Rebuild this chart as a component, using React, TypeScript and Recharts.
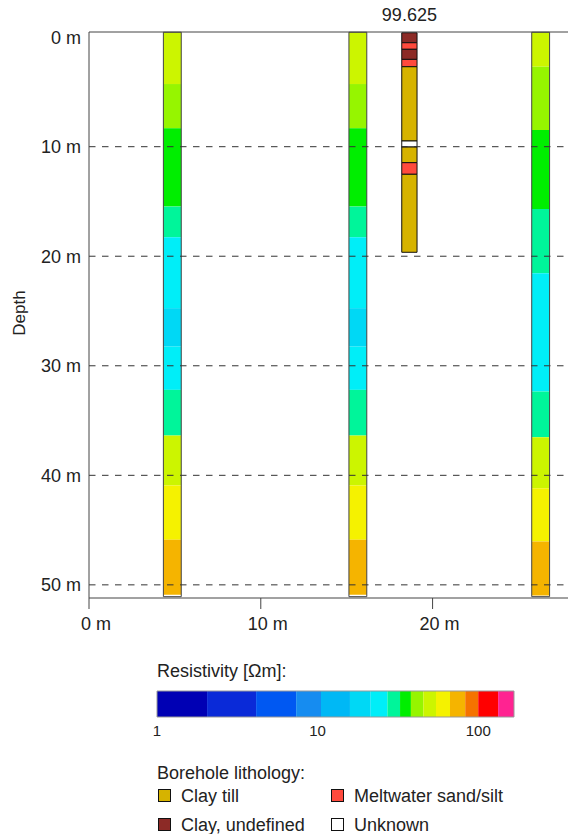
import React from 'react';
import {
  ComposedChart,
  XAxis,
  YAxis,
  ReferenceArea,
  ReferenceLine,
  Scatter,
  LabelList,
} from 'recharts';

const FONT = '"Liberation Sans", Arial, Helvetica, sans-serif';

// ---- axes ----
const distanceTicks = [0, 10, 20];
const depthTicks = [0, 10, 20, 30, 40, 50];
const gridDepths = [10, 20, 30, 40, 50];
const distanceDomain = [0, 27.94];
const depthDomain = [-0.47, 51.2];

// ---- resistivity colour scale ----
const resistivityTicks = [1, 10, 100];
const resistivityBounds = [1, 2.05, 4.14, 7.35, 10.5, 15.9, 21.4, 27.2, 32.6, 38.1, 45.5, 54.6, 66.7, 83, 100, 133, 167];
const resistivityColors = [
  '#0000b4', '#0a2ad8', '#0058f2', '#168cf0', '#00b8f5', '#00d8f5', '#00eef8', '#00f59a',
  '#00ee00', '#96f500', '#ccf500', '#f5f200', '#f5b400', '#f57300', '#ff0000', '#ff2391',
];

// ---- resistivity soundings (layer boundaries in m depth, resistivity in Ωm) ----
const soundingPositions = [4.85, 15.65, 26.29];
const soundingBottom = 51.08;
const sounding1Bounds = [-0.45, 4.28, 8.32, 15.47, 18.27, 24.74, 28.25, 32.2, 36.37, 40.93, 45.89, 50.9];
const sounding1Rho = [50, 42, 35, 30, 24, 19, 24, 30, 50, 60, 75];
const sounding2Bounds = [-0.45, 4.28, 8.32, 15.47, 18.27, 24.74, 28.25, 32.2, 36.37, 40.93, 45.89, 50.9];
const sounding2Rho = [50, 42, 35, 30, 24, 19, 24, 30, 50, 60, 75];
const sounding3Bounds = [-0.45, 2.7, 8.48, 15.69, 21.55, 32.35, 36.52, 41.17, 46.04, 50.97];
const sounding3Rho = [50, 42, 35, 30, 24, 30, 50, 60, 75];
const soundingBounds = [sounding1Bounds, sounding2Bounds, sounding3Bounds];
const soundingRho = [sounding1Rho, sounding2Rho, sounding3Rho];

// ---- borehole ----
const boreholePosition = 18.65;
const boreholeElevation = '99.625';
const boreholeBounds = [-0.4, 0.51, 1.11, 2.03, 2.7, 9.48, 10.03, 11.46, 12.52, 19.64];
const boreholeLitho = [
  'Clay, undefined', 'Meltwater sand/silt', 'Clay, undefined', 'Meltwater sand/silt',
  'Clay till', 'Unknown', 'Clay till', 'Meltwater sand/silt', 'Clay till',
];
const lithoNames = ['Clay till', 'Meltwater sand/silt', 'Clay, undefined', 'Unknown'];
const lithoColors: Record<string, string> = {
  'Clay till': '#d6b300',
  'Meltwater sand/silt': '#ff4a3d',
  'Clay, undefined': '#8c2a26',
  Unknown: '#ffffff',
};

const boreholeTops = [{ x: boreholePosition, y: depthDomain[0], label: boreholeElevation }];
const colorbarAnchors = resistivityBounds.map((b) => ({ x: b, y: 0.5 }));

const SOUNDING_HALF = 0.52;
const BOREHOLE_HALF = 0.445;

function colorFor(rho: number) {
  for (let i = 0; i < resistivityColors.length; i++) {
    if (rho >= resistivityBounds[i] && rho < resistivityBounds[i + 1]) return resistivityColors[i];
  }
  return resistivityColors[resistivityColors.length - 1];
}

const XTick = (props: any) => {
  const { x, y, payload } = props;
  return (
    <text x={x + 7} y={y + 19} textAnchor="middle" fontSize={18} fill="#222" fontFamily={FONT}>
      {`${payload.value} m`}
    </text>
  );
};

const DepthLabel = (props: any) => {
  const vb = props.viewBox || { x: 0, y: 32, width: 89, height: 566 };
  const cx = vb.x + 19;
  const cy = vb.y + vb.height / 2 - 2;
  return (
    <text
      x={cx}
      y={cy}
      dy="0.35em"
      textAnchor="middle"
      transform={`rotate(-90, ${cx}, ${cy})`}
      fontSize={17}
      fill="#222"
      fontFamily={FONT}
    >
      Depth
    </text>
  );
};

export default function App() {
  const soundingAreas: React.ReactNode[] = [];
  soundingPositions.forEach((pos, s) => {
    const b = soundingBounds[s];
    soundingRho[s].forEach((rho, i) => {
      soundingAreas.push(
        <ReferenceArea
          key={`s${s}-${i}`}
          x1={pos - SOUNDING_HALF}
          x2={pos + SOUNDING_HALF}
          y1={b[i]}
          y2={b[i + 1]}
          fill={colorFor(rho)}
          fillOpacity={1}
          stroke="none"
        />
      );
    });
  });
  const soundingOutlines = soundingPositions.map((pos, s) => (
    <ReferenceArea
      key={`o${s}`}
      x1={pos - SOUNDING_HALF}
      x2={pos + SOUNDING_HALF}
      y1={soundingBounds[s][0]}
      y2={soundingBottom}
      fill="none"
      fillOpacity={0}
      stroke="#444"
      strokeWidth={1}
    />
  ));
  const boreholeAreas = boreholeLitho.map((l, i) => (
    <ReferenceArea
      key={`b${i}`}
      x1={boreholePosition - BOREHOLE_HALF}
      x2={boreholePosition + BOREHOLE_HALF}
      y1={boreholeBounds[i]}
      y2={boreholeBounds[i + 1]}
      fill={lithoColors[l]}
      fillOpacity={1}
      stroke="#111"
      strokeWidth={1}
    />
  ));

  const legendItems = lithoNames.map((name, i) => {
    const col = i % 2;
    const row = Math.floor(i / 2);
    const sx = col === 0 ? 158.5 : 331.5;
    const sy = 789.5 + row * 29;
    return (
      <g key={name}>
        <rect x={sx} y={sy} width={12} height={12} fill={lithoColors[name]} stroke="#111" strokeWidth={1} />
        <text x={sx + 22.5} y={sy + 12.5} fontSize={18} fill="#222" fontFamily={FONT}>
          {name}
        </text>
      </g>
    );
  });

  return (
    <div
      style={{
        position: 'absolute',
        left: 0,
        top: 0,
        width: 568,
        height: 834,
        overflow: 'hidden',
        background: '#fff',
        fontFamily: FONT,
      }}
    >
      <div style={{ position: 'absolute', left: 0, top: 0 }}>
        <ComposedChart width={600} height={640} margin={{ top: 32, right: 31, left: 0, bottom: 0 }} data={boreholeTops}>
          <XAxis
            type="number"
            dataKey="x"
            domain={distanceDomain}
            ticks={distanceTicks}
            allowDataOverflow
            height={42}
            tickSize={11}
            stroke="#444"
            tick={<XTick />}
          />
          <YAxis
            type="number"
            dataKey="y"
            domain={depthDomain}
            reversed
            ticks={depthTicks}
            allowDataOverflow
            width={89}
            tickLine={false}
            stroke="#444"
            tickFormatter={(v: number) => `${v} m`}
            tick={{ fill: '#222', fontSize: 18, fontFamily: FONT }}
            label={{ value: 'Depth', content: DepthLabel }}
          />
          {soundingAreas}
          {soundingOutlines}
          {boreholeAreas}
          {gridDepths.map((d) => (
            <ReferenceLine key={`g${d}`} y={d} stroke="#333" strokeWidth={1} strokeDasharray="6.5 6.5" />
          ))}
          <ReferenceLine y={depthDomain[0]} stroke="#444" strokeWidth={1} />
          <Scatter data={boreholeTops} dataKey="y" shape={() => <g />} isAnimationActive={false}>
            <LabelList dataKey="label" position="top" offset={6} fill="#222" fontSize={18} fontFamily={FONT} />
          </Scatter>
        </ComposedChart>
      </div>

      <div style={{ position: 'absolute', left: 0, top: 680 }}>
        <ComposedChart
          width={568}
          height={60}
          margin={{ top: 11, right: 54, left: 157, bottom: 0 }}
          data={colorbarAnchors}
        >
          <XAxis
            type="number"
            dataKey="x"
            scale="log"
            domain={[resistivityBounds[0], resistivityBounds[resistivityBounds.length - 1]]}
            ticks={resistivityTicks}
            allowDataOverflow
            height={23}
            axisLine={false}
            tickLine={false}
            tick={{ fill: '#222', fontSize: 15, fontFamily: FONT }}
          />
          <YAxis type="number" dataKey="y" domain={[0, 1]} hide allowDataOverflow />
          {resistivityColors.map((c, i) => (
            <ReferenceArea
              key={`c${i}`}
              x1={resistivityBounds[i]}
              x2={resistivityBounds[i + 1]}
              y1={0}
              y2={1}
              fill={c}
              fillOpacity={1}
              stroke="none"
            />
          ))}
          <ReferenceArea
            x1={resistivityBounds[0]}
            x2={resistivityBounds[resistivityBounds.length - 1]}
            y1={0}
            y2={1}
            fill="none"
            fillOpacity={0}
            stroke="#999"
            strokeWidth={1}
          />
          <Scatter data={colorbarAnchors} dataKey="y" shape={() => <g />} isAnimationActive={false} />
        </ComposedChart>
      </div>

      <svg width={568} height={834} style={{ position: 'absolute', left: 0, top: 0, pointerEvents: 'none' }}>
        <text x={157} y={677} fontSize={18} fill="#222" fontFamily={FONT}>
          Resistivity [Ωm]:
        </text>
        <text x={157} y={779} fontSize={18} fill="#222" fontFamily={FONT}>
          Borehole lithology:
        </text>
        {legendItems}
      </svg>
    </div>
  );
}
